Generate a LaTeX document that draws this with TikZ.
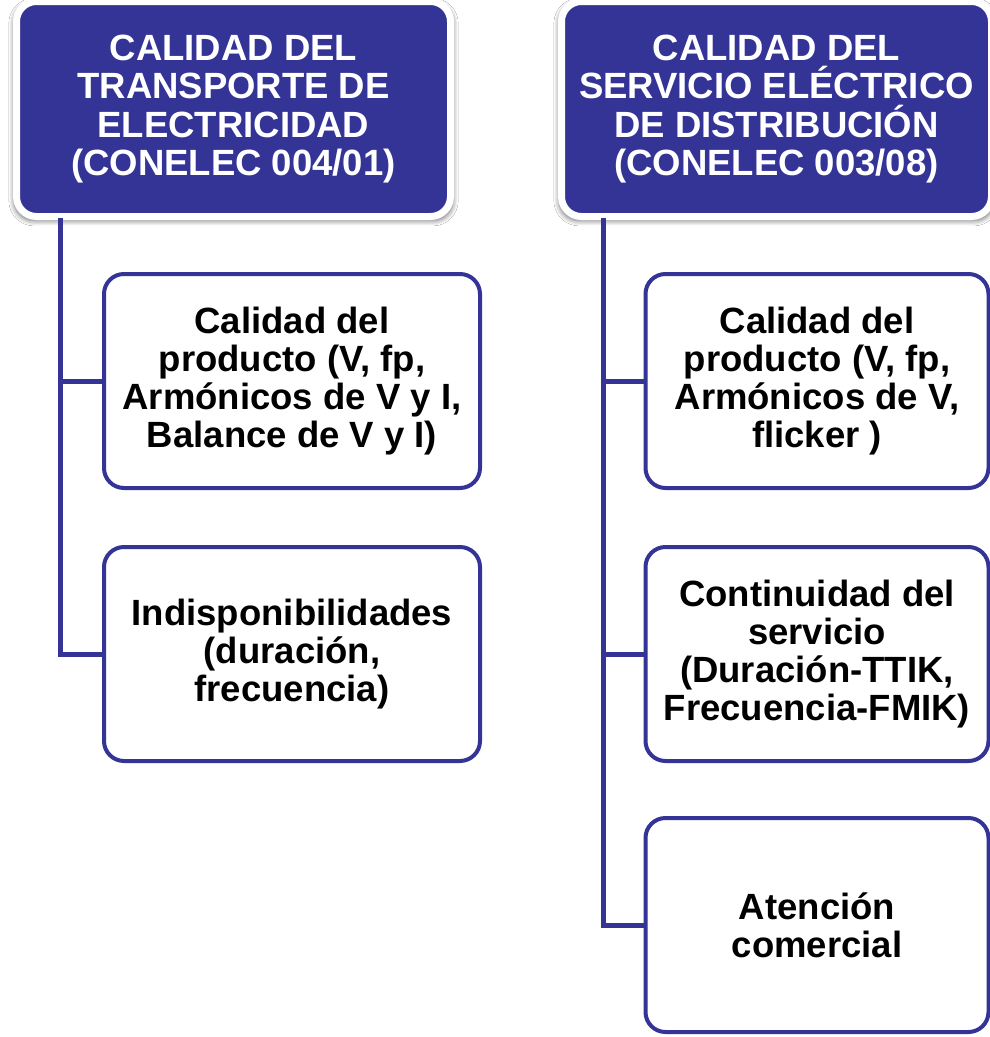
\documentclass[tikz,border=0pt]{standalone}
\usepackage{fontspec}
\setmainfont{Liberation Sans}
\usetikzlibrary{shadows.blur}
\definecolor{hdrblue}{RGB}{52,52,150}
\tikzset{
  hdr/.style={draw=white, line width=7pt, fill=hdrblue, rounded corners=20pt,
    text=white, align=center, inner sep=0pt, outer sep=0pt,
    font=\fontsize{36.5}{38.3}\selectfont\bfseries,
    blur shadow={shadow xshift=0pt, shadow yshift=-3pt, shadow scale=1.012, shadow blur radius=5pt, shadow blur steps=8, shadow opacity=55}},
  child/.style={draw=hdrblue, line width=4pt, fill=white, rounded corners=20pt,
    text=black, align=center, inner sep=0pt, outer sep=0pt,
    minimum width=376pt, minimum height=214pt,
    font=\fontsize{36.5}{37.8}\selectfont\bfseries},
  conn/.style={draw=hdrblue, line width=5pt}
}
\begin{document}
\begin{tikzpicture}[x=1pt,y=-1pt]
\clip (0,0) rectangle (990,1037);
\fill[white] (0,0) rectangle (990,1037);
% headers
\node[hdr, minimum width=434pt, minimum height=215pt] (lh) at (233.5,109) {CALIDAD DEL\\TRANSPORTE DE\\ELECTRICIDAD\\(CONELEC 004/01)};
\node[hdr, minimum width=430pt, minimum height=215pt] (rh) at (776.5,109) {CALIDAD DEL\\SERVICIO ELÉCTRICO\\DE DISTRIBUCIÓN\\(CONELEC 003/08)};
% left children
\node[child] (l1) at (292,381) {Calidad del\\producto (V, fp,\\Armónicos de V y I,\\Balance de V y I)};
\node[child] (l2) at (292,654) {Indisponibilidades\\(duración,\\frecuencia)};
% right children
\node[child, minimum width=343pt] (r1) at (817,381) {Calidad del\\producto (V, fp,\\Armónicos de V,\\flicker )};
\node[child, minimum width=343pt] (r2) at (817,654) {Continuidad del\\servicio\\(Duración-TTIK,\\Frecuencia-FMIK)};
\node[child, minimum width=343pt] (r3) at (817,925) {Atención\\comercial};
% connectors
\coordinate (lv) at (60,218);
\coordinate (rv) at (603,218);
\draw[conn] (lv) |- (l2.west);
\draw[conn] (lv |- l1.west) -- (l1.west);
\draw[conn] (rv) |- (r3.west);
\draw[conn] (rv |- r1.west) -- (r1.west);
\draw[conn] (rv |- r2.west) -- (r2.west);
\end{tikzpicture}
\end{document}
